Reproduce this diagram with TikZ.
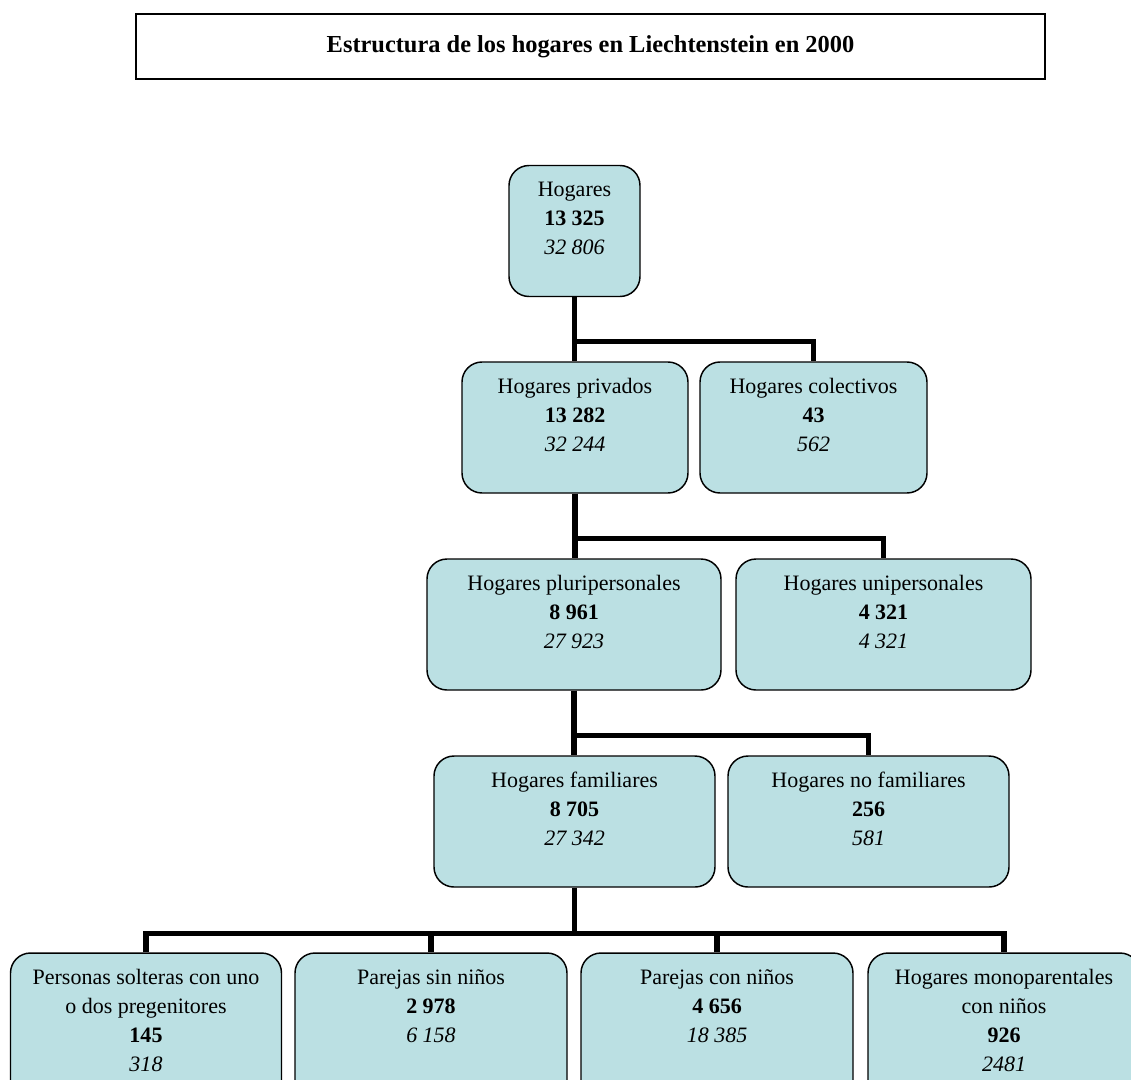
\documentclass[tikz,border=0pt]{standalone}
\usepackage{fontspec}
\setmainfont{Liberation Serif}
\definecolor{hogarfill}{RGB}{187,224,227}
\newcommand{\hogarlines}[1]{\begin{tabular}[t]{@{}c@{}}#1\end{tabular}}
\begin{document}
\begin{tikzpicture}[x=0.75pt, y=-0.75pt,
  every node/.style={font=\fontsize{16.5}{21.75}\selectfont},
  boxw/.style={minimum width=#1*0.75pt},
  hogarbox/.style={draw=black, fill=hogarfill, line width=1.1pt, rounded corners=15pt,
    inner xsep=0pt, inner ysep=0pt, text height=23.6pt, text depth=74.65pt},
  lowbox/.style={hogarbox, text depth=96.4pt},
  titlebox/.style={draw=black, line width=1.5pt, minimum width=681.75pt, minimum height=48.75pt,
    font=\fontsize{18.3}{22}\selectfont\bfseries},
  link/.style={line width=4pt}]
\useasboundingbox (0,0) rectangle (1131,1079);
\clip (0,0) rectangle (1131,1079);
\node[titlebox] (titulo) at (590.5,46.5) {Estructura de los hogares en Liechtenstein en 2000};
\node[hogarbox, boxw=131] (hog) at (574.5,231) {\hogarlines{Hogares\\\textbf{13 325}\\\textit{32 806}}};
\node[hogarbox, boxw=226] (priv) at (575,427.5) {\hogarlines{Hogares privados\\\textbf{13 282}\\\textit{32 244}}};
\node[hogarbox, boxw=227] (colec) at (813.5,427.5) {\hogarlines{Hogares colectivos\\\textbf{43}\\\textit{562}}};
\node[hogarbox, boxw=294] (pluri) at (574,624.5) {\hogarlines{Hogares pluripersonales\\\textbf{8 961}\\\textit{27 923}}};
\node[hogarbox, boxw=295] (uni) at (883.5,624.5) {\hogarlines{Hogares unipersonales\\\textbf{4 321}\\\textit{4 321}}};
\node[hogarbox, boxw=281] (fam) at (574.5,821.5) {\hogarlines{Hogares familiares\\\textbf{8 705}\\\textit{27 342}}};
\node[hogarbox, boxw=281] (nofam) at (868.5,821.5) {\hogarlines{Hogares no familiares\\\textbf{256}\\\textit{581}}};
\node[lowbox, boxw=271] (solt) at (146,1033) {\hogarlines{Personas solteras con uno\\o dos pregenitores\\\textbf{145}\\\textit{318}}};
\node[lowbox, boxw=272] (sinn) at (431,1033) {\hogarlines{Parejas sin niños\\\textbf{2 978}\\\textit{6 158}}};
\node[lowbox, boxw=272] (conn) at (717,1033) {\hogarlines{Parejas con niños\\\textbf{4 656}\\\textit{18 385}}};
\node[lowbox, boxw=272] (mono) at (1004,1033) {\hogarlines{Hogares monoparentales\\con niños\\\textbf{926}\\\textit{2481}}};
\draw[link] (hog.south) -- (hog.south |- priv.north);
\draw[link] (hog.south) -- ++(0,44) -| (colec.north);
\draw[link] (priv.south) -- (priv.south |- pluri.north);
\draw[link] (priv.south) -- ++(0,45) -| (uni.north);
\draw[link] (pluri.south) -- (pluri.south |- fam.north);
\draw[link] (pluri.south) -- ++(0,45) -| (nofam.north);
\draw[link] (fam.south) -- ++(0,46) coordinate (famjoin);
\draw[link] (solt.north) |- (famjoin) -| (mono.north);
\draw[link] (sinn.north) -- (sinn.north |- famjoin);
\draw[link] (conn.north) -- (conn.north |- famjoin);
\end{tikzpicture}
\end{document}
